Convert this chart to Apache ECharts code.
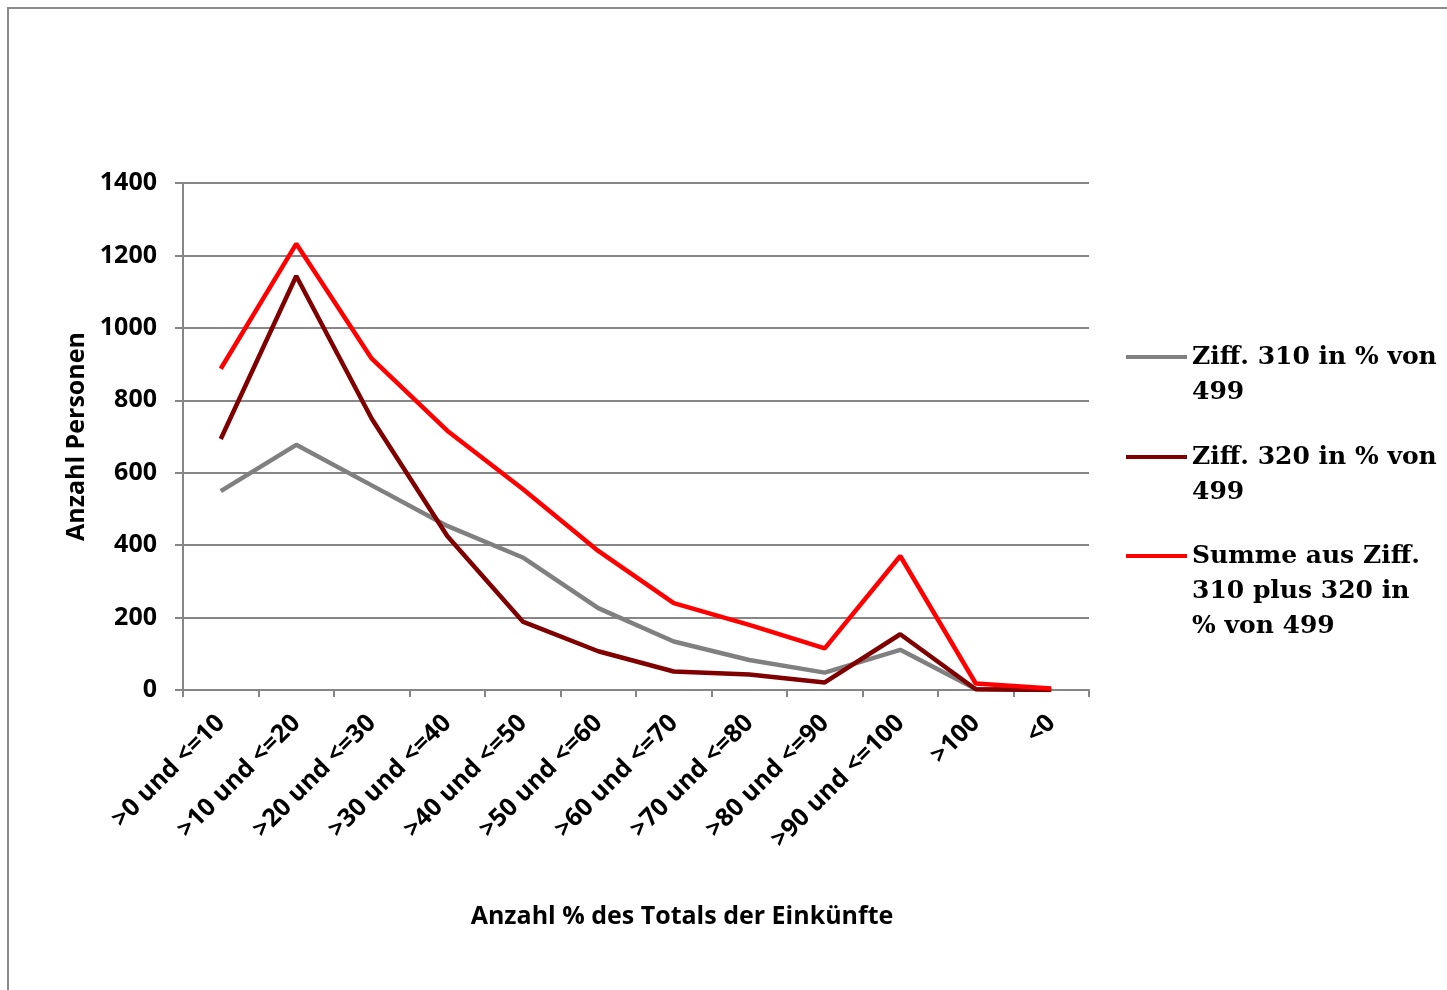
<!DOCTYPE html>
<html>
<head>
<meta charset="utf-8">
<script src="https://cdn.jsdelivr.net/npm/echarts@6/dist/echarts.min.js"></script>
<style>
  html, body { margin: 0; padding: 0; background: #fff; overflow: hidden; }
  #frame {
    position: absolute; left: 7px; top: 7px; width: 1460px; height: 1000px;
    border-left: 2px solid #8a8a8a; border-top: 2px solid #8a8a8a;
  }
  #chart { position: absolute; left: 0; top: 0; width: 1447px; height: 990px; }
</style>
</head>
<body>
<div id="frame"></div>
<div id="chart"></div>
<script>
// Kategorien (x-Achse)
const categories = ['>0 und <=10', '>10 und <=20', '>20 und <=30', '>30 und <=40', '>40 und <=50',
  '>50 und <=60', '>60 und <=70', '>70 und <=80', '>80 und <=90', '>90 und <=100', '>100', '<0']

// Werte je Reihe (Anzahl Personen)
const ziff310 = [549, 677, 565, 453, 366, 226, 134, 83, 48, 111, 3, 0]
const ziff320 = [693, 1143, 749, 425, 189, 107, 51, 43, 21, 154, 2, 0]
const summe = [887, 1232, 915, 716, 555, 384, 240, 180, 115, 370, 18, 4]

const seriesNames = ['Ziff. 310 in % von 499', 'Ziff. 320 in % von 499', 'Summe aus Ziff. 310 plus 320 in % von 499']
const legendLines = [
  ['Ziff. 310 in % von', '499'],
  ['Ziff. 320 in % von', '499'],
  ['Summe aus Ziff.', '310 plus 320 in', '% von 499']
]
const colors = ['#808080', '#800000', '#ff0000']

const yTicks = { min: 0, max: 1400, interval: 200 }

const axisGray = '#868686'
const sansFont = '"Open Sans", sans-serif'
const serifFont = '"DejaVu Serif", serif'

const chart = echarts.init(document.getElementById('chart'))

// Legende: Linie auf Höhe der ersten Textzeile (leere Zeilen davor zum Zentrieren)
const firstLineY = [357, 457, 556]
const lineH = 35
const legends = seriesNames.map((name, i) => {
  const n = legendLines[i].length
  const boxH = (2 * n - 1) * lineH
  return {
    data: [name],
    orient: 'vertical',
    left: 1126,
    top: firstLineY[i] - boxH / 2,
    padding: 0,
    icon: 'rect',
    itemWidth: 61,
    itemHeight: 4,
    formatter: () => '\n'.repeat(n - 1) + legendLines[i].join('\n'),
    textStyle: {
      fontFamily: serifFont,
      fontWeight: 'bold',
      fontSize: 25,
      lineHeight: lineH,
      color: '#000'
    }
  }
})

const option = {
  animation: false,
  backgroundColor: 'transparent',
  grid: { left: 183, top: 183, width: 906, height: 507, containLabel: false },
  legend: legends,
  xAxis: {
    type: 'category',
    data: categories,
    boundaryGap: true,
    axisLine: { lineStyle: { color: axisGray, width: 2 } },
    axisTick: { show: true, length: 7, lineStyle: { color: axisGray, width: 2 } },
    axisLabel: {
      interval: 0,
      rotate: 45,
      margin: 29,
      color: '#000',
      fontFamily: sansFont,
      fontWeight: 'bold',
      fontSize: 25
    },
    splitLine: { show: false }
  },
  yAxis: {
    type: 'value',
    min: yTicks.min,
    max: yTicks.max,
    interval: yTicks.interval,
    name: 'Anzahl Personen',
    nameLocation: 'middle',
    nameRotate: 90,
    nameGap: 92,
    nameTextStyle: { color: '#000', fontFamily: sansFont, fontWeight: 'bold', fontSize: 25 },
    axisLine: { show: true, lineStyle: { color: axisGray, width: 2 } },
    axisTick: { show: true, length: 8, lineStyle: { color: axisGray, width: 2 } },
    axisLabel: {
      margin: 26,
      color: '#000',
      fontFamily: sansFont,
      fontWeight: 'bold',
      fontSize: 25,
      formatter: v => String(v)
    },
    splitLine: { lineStyle: { color: axisGray, width: 2 } }
  },
  graphic: [{
    type: 'text',
    x: 682,
    y: 917,
    style: {
      text: 'Anzahl % des Totals der Einkünfte',
      fill: '#000',
      font: 'bold 25px ' + sansFont,
      align: 'center',
      verticalAlign: 'middle'
    }
  }],
  series: [ziff310, ziff320, summe].map((data, i) => ({
    name: seriesNames[i],
    type: 'line',
    data: data,
    symbol: 'none',
    color: colors[i],
    lineStyle: { color: colors[i], width: 4.5 },
    z: 2 + i
  }))
}

chart.setOption(option)
</script>
</body>
</html>
